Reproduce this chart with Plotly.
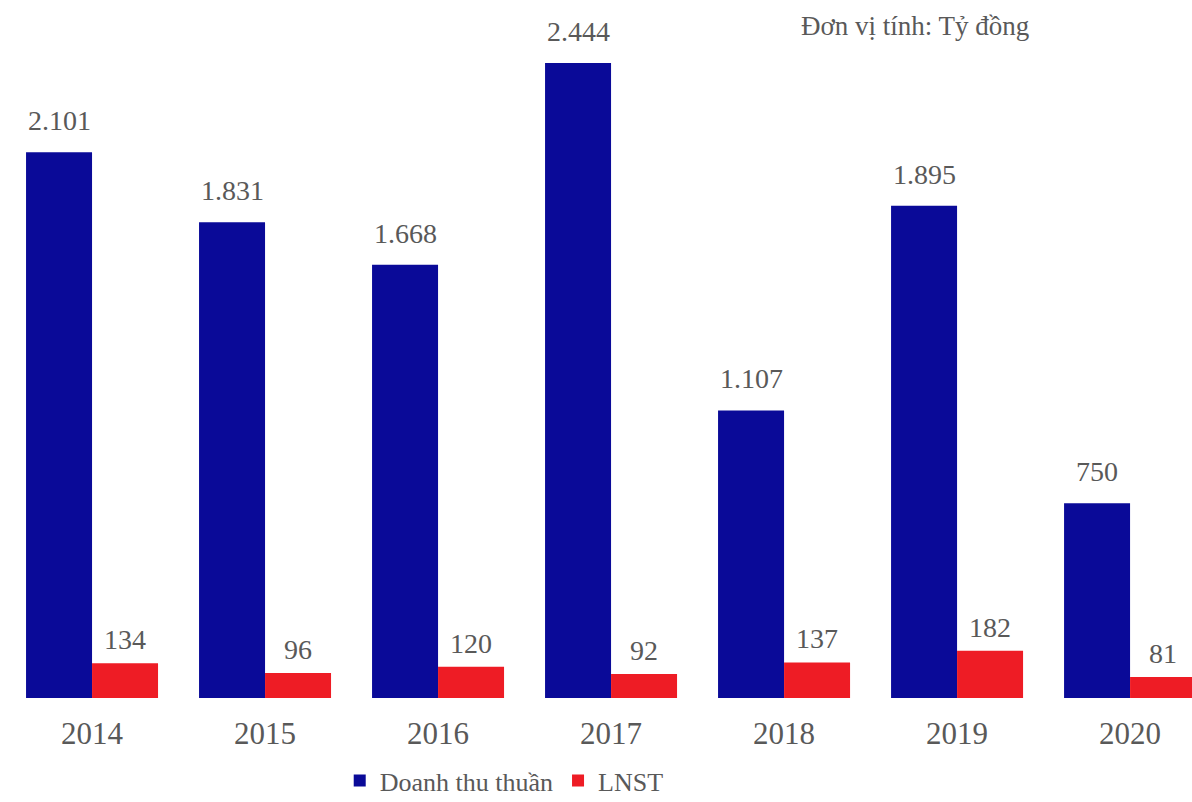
import plotly.graph_objects as go

years = ["2014", "2015", "2016", "2017", "2018", "2019", "2020"]
revenue = [2101, 1831, 1668, 2444, 1107, 1895, 750]
profit = [134, 96, 120, 92, 137, 182, 81]
revenue_labels = ["2.101", "1.831", "1.668", "2.444", "1.107", "1.895", "750"]
profit_labels = ["134", "96", "120", "92", "137", "182", "81"]

FONT = "Liberation Serif"
GREY = "#595959"
BAR_HALF_PX = 33  # each bar is 66 px wide inside its group

fig = go.Figure()
fig.add_trace(go.Bar(
    x=years, y=revenue, name="Doanh thu thuần",
    marker=dict(color="#0A0A98", line=dict(width=0)),
))
fig.add_trace(go.Bar(
    x=years, y=profit, name="LNST",
    marker=dict(color="#EE1C25", line=dict(width=0)),
))

# value labels sit just above each bar (x given as category index)
annotations = []
for i, (v, lab) in enumerate(zip(revenue, revenue_labels)):
    annotations.append(dict(x=i, y=v, text=lab, xref="x", yref="y",
                            xshift=-BAR_HALF_PX, yshift=14, yanchor="bottom",
                            showarrow=False,
                            font=dict(family=FONT, size=28, color=GREY)))
for i, (v, lab) in enumerate(zip(profit, profit_labels)):
    annotations.append(dict(x=i, y=v, text=lab, xref="x", yref="y",
                            xshift=BAR_HALF_PX, yshift=6, yanchor="bottom",
                            showarrow=False,
                            font=dict(family=FONT, size=28, color=GREY)))
annotations.append(dict(
    text="Đơn vị tính: Tỷ đồng", x=0.768, y=1.0, xref="paper", yref="paper",
    xanchor="center", yanchor="middle", yshift=14, showarrow=False,
    font=dict(family=FONT, size=27, color=GREY),
))

fig.update_layout(
    width=1192, height=802,
    margin=dict(l=0, r=0, t=40, b=104, autoexpand=False),
    paper_bgcolor="white", plot_bgcolor="white",
    barmode="group", bargap=0.237, bargroupgap=0,
    font=dict(family=FONT, size=27, color=GREY),
    showlegend=True,
    legend=dict(orientation="h", x=0.285, y=-0.09, xanchor="left", yanchor="top",
                font=dict(family=FONT, size=26, color=GREY),
                itemwidth=30, traceorder="normal", tracegroupgap=0),
    annotations=annotations,
)
fig.update_xaxes(type="category", range=[-0.532, 6.358], showline=False, showgrid=False,
                 ticks="", tickfont=dict(family=FONT, size=31, color=GREY),
                 ticklabelstandoff=14)
fig.update_yaxes(range=[0, 2533], visible=False, showgrid=False, zeroline=False)

fig.write_html("out.html")
